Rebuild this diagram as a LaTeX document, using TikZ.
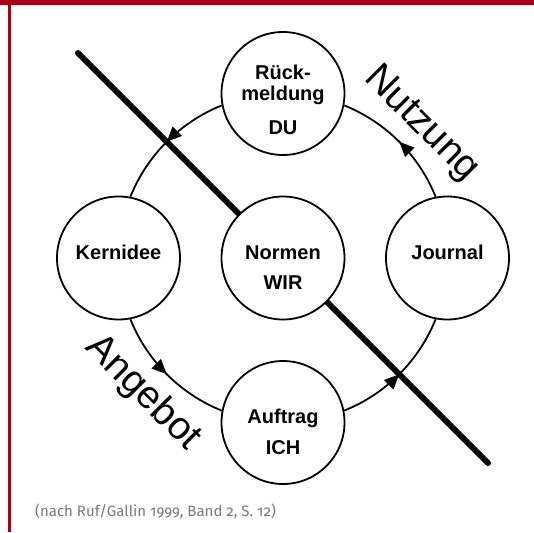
\documentclass[tikz,border=0pt]{standalone}
\usepackage{fontspec}
\newfontfamily\lblfont{Liberation Sans}
\newfontfamily\notefont{Fira Sans}[Numbers=OldStyle]
\usepackage{xcolor}
\usepackage{tikz}
\usetikzlibrary{arrows.meta, backgrounds, decorations.markings}
\definecolor{framered}{RGB}{170,0,20}
\definecolor{notegray}{RGB}{120,120,120}

\begin{document}
\begin{tikzpicture}[
    x=1pt, y=1pt,
    ring/.style={circle, draw, line width=1.8pt, fill=white, minimum size=123pt, inner sep=0pt},
    lbl/.style={anchor=base, align=center, font=\lblfont\bfseries\fontsize{20}{21}\selectfont},
    flow/.style={line width=1.8pt, looseness=.886, postaction={decorate},
      decoration={markings, mark=at position .5 with {\arrow{Triangle[length=15pt,width=13pt]}}}},
    cut/.style={line width=6pt, line cap=round},
    side/.style={rotate=-45, font=\lblfont\fontsize{39}{42}\selectfont},
    note/.style={anchor=base west, text=notegray, font=\notefont\fontsize{15}{17}\selectfont},
  ]
  \useasboundingbox (-283,-274) rectangle (251,258);
  % frame
  \fill[framered] (-283,253) rectangle (251,258);
  \fill[framered] (-274.5,-274) rectangle (-272,258);
  % circles
  \node[ring] (norm) at (0,0) {};
  \node[ring] (rueck) at (90:164.5) {};
  \node[ring] (kern) at (180:164.5) {};
  \node[ring] (auftrag) at (270:164.5) {};
  \node[ring] (journal) at (0:164.5) {};
  % labels (base = last line)
  \node[lbl] (tkern) at ([yshift=-1pt]kern.center) {Kernidee};
  \node[lbl] (tjournal) at ([yshift=-1pt]journal.center) {Journal};
  \node[lbl] (tnorm) at ([yshift=-31pt]norm.center) {Normen\\[9pt]WIR};
  \node[lbl] (tauftrag) at ([yshift=-31.5pt]auftrag.center) {Auftrag\\[10pt]ICH};
  \node[lbl] (trueck) at ([yshift=-41.5pt]rueck.center) {Rück-\\meldung\\[13pt]DU};
  % cycle and cut
  \coordinate (cutA) at (-205,205);
  \coordinate (cutB) at (205,-205);
  \begin{scope}[on background layer]
    \foreach \fromnode/\tonode/\o/\i in {rueck.191/kern.79/201.9/68.1,
        kern.281/auftrag.169/291.9/158.1, auftrag.11/journal.259/21.9/248.1,
        journal.101/rueck.349/111.9/338.1}
      \draw[flow] (\fromnode) to[out=\o, in=\i] (\tonode);
    \draw[cut] (cutA) -- (cutB);
  \end{scope}
  % sides
  \node[side] (nutz) at (138,134) {Nutzung};
  \node[side] (angeb) at (-140,-135) {Angebot};
  \node[note] (src) at (-251.3,-258) {(nach Ruf/Gallin 1999, Band 2, S. 12)};
\end{tikzpicture}
\end{document}
